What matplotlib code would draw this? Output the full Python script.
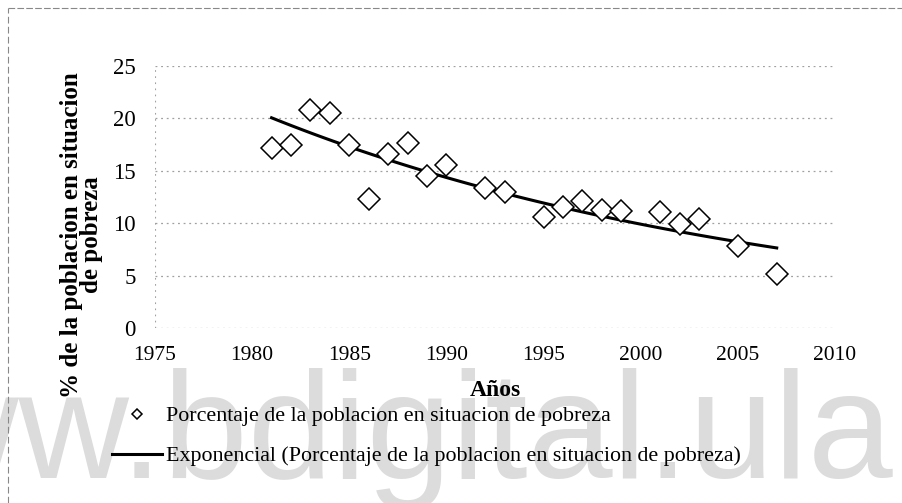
import numpy as np
import matplotlib.pyplot as plt
from matplotlib.lines import Line2D

# Poverty data
years = [1981, 1982, 1983, 1984, 1985, 1986, 1987, 1988, 1989, 1990, 1992,
         1993, 1995, 1996, 1997, 1998, 1999, 2001, 2002, 2003, 2005, 2007]
poverty = [17.2, 17.5, 20.8, 20.5, 17.5, 12.3, 16.6, 17.7, 14.5, 15.6, 13.4,
           13.0, 10.6, 11.5, 12.1, 11.3, 11.2, 11.1, 9.9, 10.4, 7.8, 5.2]

xticks = [1975, 1980, 1985, 1990, 1995, 2000, 2005, 2010]
yticks = [0, 5, 10, 15, 20, 25]

serif = 'Liberation Serif'

# exponential trend line (like Excel's "Exponencial")
yrs = np.array(years, dtype=float)
b, a = np.polyfit(yrs, np.log(poverty), 1)
trend_x = np.linspace(yrs.min(), yrs.max(), 100)
trend_y = np.exp(a + b * trend_x)

fig = plt.figure(figsize=(9.02, 5.03), dpi=100)
W, H = 902, 503
ax = fig.add_axes([155 / W, 1 - 328 / H, 680 / W, 262 / H])
ax.patch.set_visible(False)

ax.plot(years, poverty, linestyle='none', marker='D', markersize=11,
        markerfacecolor='white', markeredgecolor='black', markeredgewidth=1.1,
        label='Porcentaje de la poblacion en situacion de pobreza', zorder=3)
ax.plot(trend_x, trend_y, color='black', linewidth=2.2,
        label='Exponencial (Porcentaje de la poblacion en situacion de pobreza)', zorder=2)

ax.set_xlim(1975, 2010)
ax.set_ylim(0, 25)
ax.set_xticks(xticks)
ax.set_yticks(yticks)
ax.set_xticklabels([str(t) for t in xticks], fontsize=15.5, family=serif)
ax.set_yticklabels([str(t) for t in yticks], fontsize=16.5, family=serif)
ax.tick_params(axis='y', length=0, pad=14)
ax.tick_params(axis='x', length=0, pad=13)

for s in ax.spines.values():
    s.set_visible(False)
ax.grid(axis='y', color='#a0a0a0', linestyle=(0, (1.5, 3)), linewidth=0.9)
ax.axvline(1975, color='#a0a0a0', linestyle=(0, (1.5, 4)), linewidth=0.8)

ax.set_xlabel('Años', fontsize=17, fontweight='bold', family=serif)
ax.xaxis.set_label_coords(0.5, -0.20)
ax.set_ylabel('% de la poblacion en situacion\nde pobreza', fontsize=18,
              fontweight='bold', family=serif, linespacing=0.85)
ax.yaxis.set_label_coords(-0.076, 0.355)

fig.legend(loc='upper left', bbox_to_anchor=(112 / W, 1 - 406 / H), frameon=False,
           prop={'family': serif, 'size': 15.8}, handlelength=2.3, handletextpad=0.15,
           labelspacing=0.9, borderpad=0, borderaxespad=0, markerscale=0.5)

# watermark of the scanned source
fig.text(893 / W, 1 - 478 / H, 'www.bdigital.ula', fontsize=110, color='#dcdcdc',
         family='Liberation Sans', ha='right', va='baseline', zorder=-1)

# scanned chart border
fig.add_artist(Line2D([8 / W, 1], [1 - 8 / H, 1 - 8 / H], color='#888888',
                      linewidth=0.8, linestyle=(0, (6, 2))))
fig.add_artist(Line2D([8 / W, 8 / W], [0, 1 - 8 / H], color='#888888',
                      linewidth=0.8, linestyle=(0, (6, 3))))

fig.savefig('out.png', dpi=100)
